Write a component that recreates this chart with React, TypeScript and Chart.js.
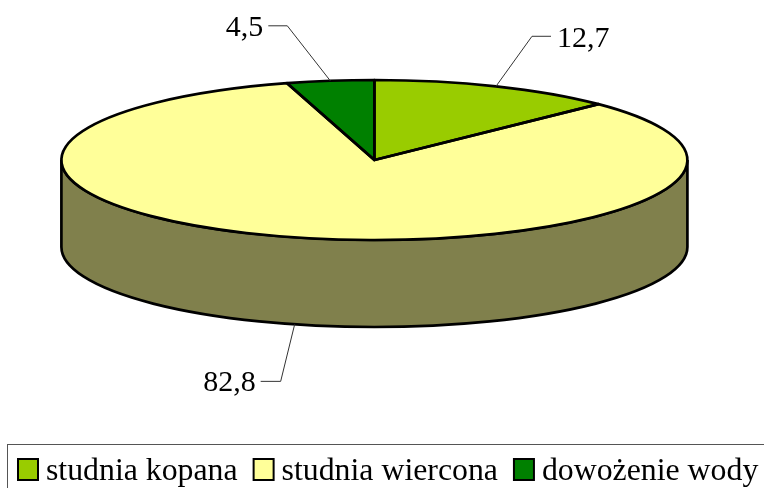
import React, { useEffect, useRef } from "react";
import { Chart, registerables } from "chart.js";

Chart.register(...registerables);

const categories = ["studnia kopana", "studnia wiercona", "dowożenie wody"];
const shares = [12.7, 82.8, 4.5];
const colors = ["#99CC00", "#FFFF99", "#008000"];

const SIDE = "#80804C";
const CX = 374.4, CY = 160, RX = 313, RY = 80, DEPTH = 87;
const FONT = '"Liberation Serif", serif';
const EDGE = 2.7;
// leader elbow, leader end and text position relative to each slice's rim point
const LEADERS = [
  { elbow: [36, -50], end: [55, -50], text: [61, -39], align: "left" },
  { elbow: [-14, 57], end: [-34, 57], text: [-39, 67], align: "right" },
  { elbow: [-43, -55], end: [-62, -55], text: [-67, -45], align: "right" },
];

const pseudo3d = {
  id: "pseudo3d",
  beforeDatasetsDraw(chart: any) {
    const c = chart.ctx;
    c.save();
    c.beginPath();
    c.moveTo(CX - RX, CY);
    c.lineTo(CX - RX, CY + DEPTH);
    c.ellipse(CX, CY + DEPTH, RX, RY, 0, Math.PI, 0, true);
    c.lineTo(CX + RX, CY);
    c.ellipse(CX, CY, RX, RY, 0, 0, Math.PI, false);
    c.closePath();
    c.fillStyle = SIDE;
    c.fill();
    c.lineWidth = EDGE;
    c.strokeStyle = "#000";
    c.stroke();
    c.restore();
  },
  beforeDatasetDraw(chart: any) {
    const c = chart.ctx;
    const el = chart.getDatasetMeta(0).data[0];
    c.save();
    c.translate(CX, CY);
    c.scale(RX / el.outerRadius, RY / el.outerRadius);
    c.translate(-el.x, -el.y);
  },
  afterDatasetDraw(chart: any) {
    const c = chart.ctx;
    c.restore();
    const arcs = chart.getDatasetMeta(0).data;
    c.save();
    c.lineWidth = EDGE;
    c.lineJoin = "round";
    c.strokeStyle = "#000";
    arcs.forEach((a: any) => {
      c.beginPath();
      c.moveTo(CX, CY);
      c.ellipse(CX, CY, RX, RY, 0, a.startAngle, a.endAngle, false);
      c.closePath();
      c.stroke();
    });
    c.restore();
  },
  afterDraw(chart: any) {
    const c = chart.ctx;
    const arcs = chart.getDatasetMeta(0).data;
    const values = chart.data.datasets[0].data;
    c.save();
    c.textBaseline = "alphabetic";
    c.font = `30px ${FONT}`;
    arcs.forEach((a: any, i: number) => {
      const mid = (a.startAngle + a.endAngle) / 2;
      const x = CX + RX * Math.cos(mid);
      const y = CY + RY * Math.sin(mid) + (Math.sin(mid) > 0 ? DEPTH : 0);
      const l = LEADERS[i];
      c.beginPath();
      c.moveTo(x, y);
      c.lineTo(x + l.elbow[0], y + l.elbow[1]);
      c.lineTo(x + l.end[0], y + l.end[1]);
      c.lineWidth = 1;
      c.strokeStyle = "#333";
      c.stroke();
      c.fillStyle = "#000";
      c.textAlign = l.align;
      c.fillText(values[i].toFixed(1).replace(".", ","), x + l.text[0], y + l.text[1]);
    });

    // legend frame runs off the right and bottom of the page
    c.strokeStyle = "#555";
    c.lineWidth = 1;
    c.strokeRect(7.5, 444.5, 780, 80);
    c.font = `31.8px ${FONT}`;
    c.textAlign = "left";
    let lx = 17;
    chart.data.labels.forEach((label: string, i: number) => {
      c.fillStyle = chart.data.datasets[0].backgroundColor[i];
      c.fillRect(lx + 1, 459, 20, 21);
      c.lineWidth = 2;
      c.strokeStyle = "#000";
      c.strokeRect(lx + 1, 459, 20, 21);
      c.fillStyle = "#000";
      c.fillText(label, lx + 29, 480);
      lx += 29 + c.measureText(label).width + 15;
    });
    c.restore();
  },
};

export default function App() {
  const ref = useRef<HTMLCanvasElement | null>(null);
  useEffect(() => {
    const chart = new Chart(ref.current as HTMLCanvasElement, {
      type: "pie",
      data: {
        labels: categories,
        datasets: [{ data: shares, backgroundColor: colors, borderWidth: 0 }],
      },
      options: {
        animation: false,
        responsive: false,
        layout: { padding: 0 },
        plugins: { legend: { display: false }, tooltip: { enabled: false } },
      },
      plugins: [pseudo3d],
    } as any);
    return () => chart.destroy();
  }, []);
  return (
    <div style={{ position: "fixed", left: 0, top: 0, width: 764, height: 488, background: "#fff" }}>
      <canvas ref={ref} width={764} height={488} style={{ display: "block" }} />
    </div>
  );
}
